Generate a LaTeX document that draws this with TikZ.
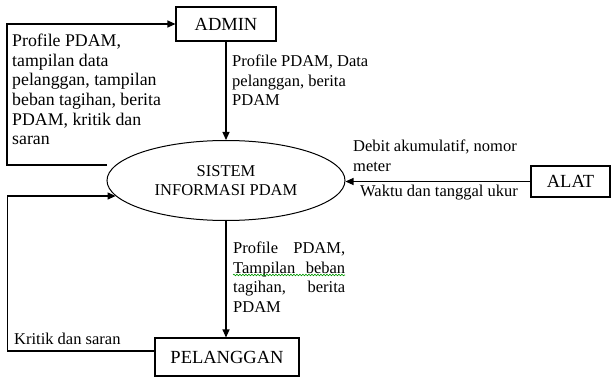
\documentclass[tikz,border=0pt]{standalone}
\usepackage{fontspec}
\setmainfont{Liberation Serif}
\usetikzlibrary{arrows.meta,shapes.geometric,decorations.pathmorphing}
\begin{document}
\begin{tikzpicture}[x=1pt,y=-1pt,
  boxnode/.style={draw,line width=1.1pt,inner sep=0pt,font=\fontsize{18.5}{20}\selectfont},
  procnode/.style={draw,ellipse,line width=1pt,inner sep=0pt,align=center,font=\fontsize{16.5}{19}\selectfont},
  lbl/.style={anchor=north west,inner sep=0pt,align=left,font=\fontsize{16.5}{19.5}\selectfont},
  arr/.style={line width=1.1pt,-{Triangle[length=8pt,width=7pt]}},
  ln/.style={line width=1.1pt}]
\useasboundingbox (0,0) rectangle (611,377);

\node[boxnode,minimum width=100pt,minimum height=34pt] (admin) at (226,24) {ADMIN};
\node[procnode,minimum width=238pt,minimum height=80pt] (sis) at (226,180.5) {SISTEM\\INFORMASI PDAM};
\node[boxnode,minimum width=79pt,minimum height=31pt] (alat) at (570.5,181.5) {ALAT};
\node[boxnode,minimum width=144pt,minimum height=38pt] (pel) at (227,357) {PELANGGAN};

\coordinate (c1) at (107,165);
\coordinate (lc) at (7,165);

\draw[arr] (admin.south) -- (sis.north);
\draw[arr] (sis.south) -- (sis.south |- pel.north);
\draw[arr] (alat.west) -- (alat.west -| sis.east);
\draw[arr] (c1) -- (lc) |- (admin.west);
\draw[arr] ([yshift=6pt]pel.west) -- ++(-147,0) |- (sis.188.6);

\node[lbl,font=\fontsize{17.8}{19.6}\selectfont] (l1) at (12,34) {Profile PDAM,\\tampilan data\\pelanggan, tampilan\\beban tagihan, berita\\PDAM, kritik dan\\saran};
\node[lbl] (l2) at (232,55) {Profile PDAM, Data\\pelanggan, berita\\PDAM};
\node[lbl] (l3) at (353,140) {Debit akumulatif, nomor\\meter};
\node[lbl] (l4) at (360,185) {Waktu dan tanggal ukur};
\node[lbl] (l5) at (233,242) {\makebox[112pt][s]{Profile PDAM,}\\\makebox[112pt][s]{Tampilan beban}\\\makebox[112pt][s]{tagihan, berita}\\PDAM};
\node[lbl] (l6) at (14,333) {Kritik dan saran};

\draw[green!60!black,line width=0.6pt,decorate,decoration={snake,amplitude=0.8pt,segment length=3pt}] (233,275) -- (345,275);
\end{tikzpicture}
\end{document}
